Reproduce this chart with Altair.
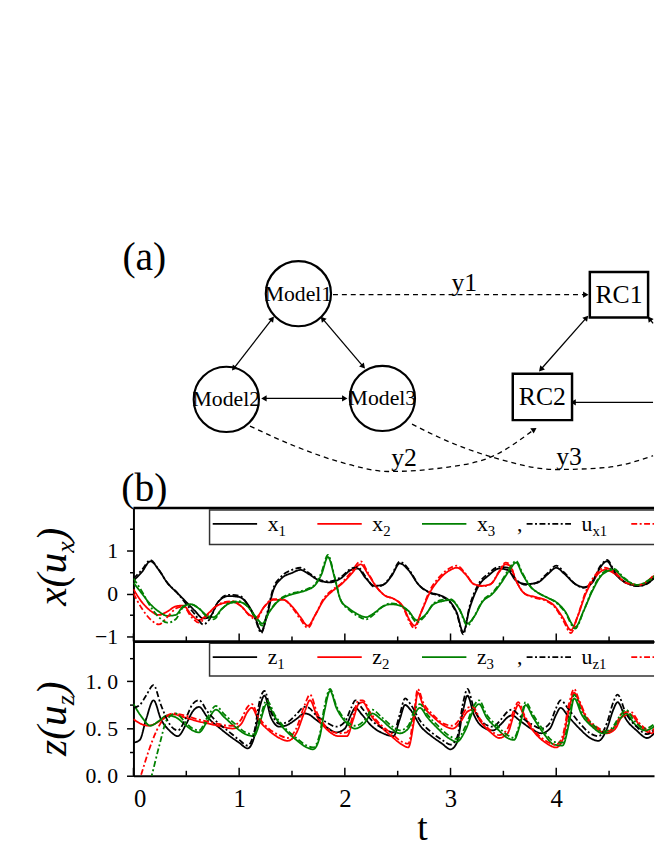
import math
import altair as alt
import pandas as pd

# ---------------- panel (b), upper: x_i (solid) and u_xi (dash-dot) ----------------
x1_t = [0.00,0.08,0.16,0.24,0.32,0.42,0.50,0.58,0.66,0.72,0.80,0.90,1.00,1.08,1.15,1.21,1.26,1.32,1.40,1.50,
        1.58,1.66,1.76,1.86,1.96,2.06,2.12,2.20,2.28,2.36,2.44,2.52,2.60,2.70,2.80,2.90,3.00,3.06,3.12,3.18,
        3.26,3.36,3.46,3.54,3.62,3.72,3.82,3.92,4.00,4.08,4.18,4.26,4.34,4.42,4.48,4.56,4.66,4.78,4.90,4.96]
x1_v = [0.30,0.50,0.75,0.55,0.25,0.00,-0.20,-0.40,-0.58,-0.55,-0.20,-0.06,-0.08,-0.25,-0.55,-0.88,-0.55,0.05,0.35,0.48,
        0.55,0.45,0.30,0.26,0.35,0.55,0.58,0.35,0.18,0.20,0.40,0.70,0.55,0.20,0.03,-0.04,-0.20,-0.45,-0.90,-0.35,
        0.15,0.42,0.58,0.55,0.30,0.22,0.25,0.45,0.60,0.45,0.22,0.15,0.25,0.62,0.75,0.45,0.25,0.18,0.30,0.45]
ux1_v = [0.35,0.55,0.78,0.55,0.25,0.00,-0.25,-0.48,-0.72,-0.60,-0.20,-0.03,-0.05,-0.25,-0.58,-0.92,-0.50,0.10,0.40,0.55,
         0.60,0.48,0.32,0.28,0.38,0.58,0.62,0.38,0.15,0.20,0.42,0.74,0.58,0.20,0.02,-0.06,-0.22,-0.48,-0.95,-0.30,
         0.20,0.47,0.62,0.60,0.32,0.20,0.26,0.48,0.65,0.48,0.22,0.13,0.27,0.65,0.78,0.48,0.25,0.17,0.30,0.48]

x2_t = [0.00,0.08,0.16,0.24,0.32,0.40,0.47,0.55,0.62,0.70,0.78,0.86,0.94,1.02,1.10,1.16,1.24,1.32,1.42,1.50,
        1.58,1.65,1.72,1.80,1.88,1.96,2.06,2.15,2.22,2.30,2.38,2.46,2.55,2.62,2.66,2.72,2.80,2.90,3.00,3.06,
        3.14,3.22,3.30,3.38,3.46,3.52,3.56,3.62,3.70,3.80,3.90,3.98,4.06,4.14,4.20,4.28,4.36,4.46,4.56,4.66,
        4.78,4.90,4.96]
x2_v = [0.10,-0.20,-0.40,-0.50,-0.42,-0.30,-0.28,-0.50,-0.62,-0.48,-0.30,-0.22,-0.20,-0.30,-0.50,-0.55,-0.30,-0.15,-0.15,-0.30,
        -0.55,-0.75,-0.50,-0.15,0.05,0.20,0.45,0.68,0.45,0.15,-0.05,-0.12,-0.30,-0.65,-0.75,-0.45,0.00,0.35,0.55,0.60,
        0.45,0.22,0.18,0.22,0.50,0.68,0.65,0.30,0.00,-0.08,-0.15,-0.28,-0.55,-0.85,-0.55,0.00,0.35,0.55,0.45,0.25,
        0.20,0.35,0.50]
ux2_v = [0.00,-0.35,-0.60,-0.72,-0.55,-0.35,-0.30,-0.55,-0.68,-0.50,-0.30,-0.20,-0.18,-0.30,-0.52,-0.60,-0.30,-0.13,-0.14,-0.32,
         -0.60,-0.80,-0.50,-0.12,0.08,0.22,0.50,0.75,0.48,0.15,-0.05,-0.12,-0.32,-0.70,-0.82,-0.45,0.05,0.40,0.60,0.65,
         0.47,0.22,0.17,0.22,0.52,0.72,0.68,0.30,0.00,-0.10,-0.17,-0.30,-0.60,-0.92,-0.55,0.05,0.40,0.60,0.48,0.25,
         0.20,0.37,0.55]

x3_t = [0.00,0.08,0.16,0.24,0.32,0.40,0.47,0.54,0.62,0.70,0.76,0.84,0.92,1.00,1.08,1.16,1.22,1.28,1.36,1.46,
        1.56,1.64,1.72,1.78,1.84,1.90,1.96,2.04,2.12,2.20,2.28,2.36,2.44,2.52,2.60,2.68,2.76,2.84,2.92,3.00,
        3.08,3.16,3.22,3.30,3.40,3.48,3.56,3.62,3.68,3.76,3.84,3.92,4.00,4.08,4.18,4.26,4.34,4.44,4.54,4.64,
        4.76,4.88,4.96]
x3_v = [0.25,0.00,-0.25,-0.42,-0.52,-0.50,-0.30,-0.25,-0.35,-0.52,-0.55,-0.35,-0.22,-0.20,-0.30,-0.55,-0.70,-0.45,-0.20,-0.05,
        0.02,0.08,0.20,0.45,0.85,0.40,-0.15,-0.35,-0.48,-0.55,-0.45,-0.30,-0.25,-0.28,-0.40,-0.62,-0.50,-0.25,-0.18,-0.15,
        -0.35,-0.70,-0.55,-0.20,0.00,0.25,0.55,0.72,0.45,0.15,0.00,-0.10,-0.20,-0.40,-0.78,-0.40,0.05,0.45,0.55,0.35,
        0.20,0.30,0.45]
ux3_v = [0.35,0.05,-0.30,-0.55,-0.68,-0.60,-0.32,-0.25,-0.35,-0.55,-0.60,-0.35,-0.20,-0.18,-0.30,-0.58,-0.75,-0.45,-0.18,-0.03,
         0.04,0.10,0.22,0.50,0.90,0.42,-0.15,-0.38,-0.52,-0.60,-0.48,-0.30,-0.23,-0.27,-0.42,-0.67,-0.52,-0.23,-0.15,-0.13,
         -0.35,-0.75,-0.55,-0.18,0.03,0.28,0.60,0.76,0.48,0.15,0.00,-0.10,-0.22,-0.42,-0.82,-0.40,0.08,0.48,0.58,0.37,
         0.20,0.32,0.48]

# ---------------- panel (b), lower: z_i (solid) and u_zi (dash-dot) ----------------
z1_t = [0.00,0.06,0.12,0.19,0.26,0.34,0.42,0.50,0.56,0.62,0.70,0.80,0.90,1.00,1.08,1.14,1.20,1.24,1.30,1.38,
        1.46,1.54,1.62,1.66,1.72,1.82,1.92,2.00,2.06,2.10,2.16,2.26,2.36,2.46,2.52,2.57,2.62,2.72,2.82,2.92,
        3.00,3.06,3.12,3.16,3.22,3.30,3.40,3.48,3.54,3.58,3.66,3.76,3.86,3.94,4.00,4.04,4.12,4.22,4.32,4.40,
        4.48,4.54,4.58,4.66,4.76,4.86,4.96]
z1_v = [0.35,0.38,0.60,0.80,0.60,0.48,0.42,0.55,0.68,0.73,0.62,0.52,0.43,0.35,0.29,0.40,0.75,0.85,0.62,0.52,
        0.54,0.60,0.66,0.65,0.60,0.52,0.46,0.50,0.65,0.72,0.65,0.52,0.45,0.42,0.60,0.75,0.70,0.52,0.42,0.34,
        0.28,0.35,0.70,0.85,0.65,0.52,0.48,0.55,0.62,0.64,0.58,0.50,0.45,0.50,0.65,0.72,0.62,0.50,0.40,0.37,
        0.50,0.70,0.78,0.60,0.48,0.40,0.50]
uz1_v = [0.72,0.75,0.85,0.96,0.75,0.55,0.48,0.62,0.76,0.80,0.68,0.56,0.47,0.38,0.32,0.45,0.82,0.90,0.68,0.55,
         0.57,0.65,0.73,0.72,0.65,0.57,0.52,0.57,0.72,0.80,0.72,0.58,0.50,0.46,0.65,0.82,0.76,0.57,0.46,0.38,
         0.33,0.40,0.78,0.92,0.72,0.57,0.52,0.60,0.68,0.70,0.63,0.55,0.50,0.56,0.72,0.80,0.70,0.56,0.45,0.42,
         0.56,0.78,0.86,0.66,0.52,0.44,0.55]

z2_t = [0.00,0.07,0.14,0.22,0.30,0.38,0.48,0.60,0.72,0.84,0.94,1.02,1.08,1.12,1.18,1.28,1.38,1.46,1.54,1.62,
        1.67,1.74,1.84,1.94,2.02,2.08,2.13,2.17,2.24,2.34,2.44,2.54,2.60,2.65,2.69,2.74,2.84,2.94,3.02,3.10,
        3.16,3.21,3.28,3.38,3.46,3.54,3.60,3.64,3.70,3.80,3.90,4.00,4.06,4.12,4.17,4.21,4.28,4.38,4.48,4.56,
        4.62,4.70,4.80,4.90,4.96]
z2_v = [0.60,0.55,0.53,0.56,0.62,0.65,0.62,0.58,0.55,0.52,0.50,0.55,0.68,0.72,0.60,0.48,0.40,0.37,0.45,0.68,
        0.80,0.62,0.48,0.42,0.42,0.60,0.76,0.78,0.65,0.52,0.42,0.33,0.30,0.55,0.88,0.75,0.62,0.53,0.50,0.58,
        0.68,0.70,0.58,0.46,0.40,0.45,0.65,0.75,0.62,0.45,0.35,0.30,0.38,0.70,0.88,0.80,0.62,0.50,0.45,0.50,
        0.62,0.65,0.52,0.45,0.55]
uz2_v = [-0.25,0.00,0.25,0.48,0.62,0.66,0.64,0.60,0.57,0.54,0.53,0.60,0.73,0.76,0.63,0.50,0.43,0.40,0.50,0.75,
         0.86,0.66,0.50,0.45,0.46,0.65,0.80,0.80,0.67,0.54,0.45,0.36,0.34,0.62,0.92,0.78,0.64,0.55,0.53,0.62,
         0.72,0.73,0.60,0.48,0.43,0.50,0.70,0.78,0.64,0.47,0.37,0.33,0.42,0.76,0.92,0.82,0.64,0.52,0.47,0.53,
         0.66,0.68,0.54,0.47,0.58]

z3_t = [0.00,0.08,0.16,0.24,0.32,0.40,0.48,0.56,0.62,0.70,0.78,0.86,0.96,1.06,1.14,1.20,1.26,1.34,1.44,1.54,
        1.64,1.70,1.76,1.81,1.86,1.92,2.00,2.10,2.18,2.26,2.34,2.44,2.52,2.60,2.66,2.71,2.78,2.88,2.98,3.06,
        3.14,3.22,3.27,3.34,3.44,3.54,3.60,3.66,3.71,3.78,3.88,3.98,4.06,4.12,4.17,4.24,4.34,4.44,4.52,4.60,
        4.66,4.74,4.84,4.96]
z3_v = [0.76,0.62,0.53,0.58,0.64,0.62,0.55,0.48,0.46,0.58,0.70,0.62,0.52,0.44,0.42,0.58,0.76,0.62,0.48,0.38,
        0.30,0.28,0.40,0.70,0.90,0.72,0.58,0.50,0.55,0.66,0.60,0.50,0.45,0.50,0.65,0.72,0.62,0.50,0.40,0.36,
        0.48,0.70,0.76,0.62,0.50,0.40,0.38,0.55,0.75,0.62,0.45,0.33,0.32,0.55,0.82,0.65,0.52,0.45,0.48,0.60,
        0.66,0.55,0.48,0.55]
uz3_v = [-0.55,-0.30,-0.05,0.30,0.60,0.66,0.58,0.50,0.48,0.62,0.74,0.65,0.55,0.46,0.44,0.62,0.80,0.64,0.50,0.40,
         0.32,0.30,0.43,0.75,0.92,0.74,0.60,0.53,0.58,0.70,0.63,0.53,0.48,0.53,0.70,0.76,0.65,0.53,0.43,0.39,
         0.52,0.74,0.80,0.65,0.53,0.43,0.40,0.58,0.78,0.65,0.48,0.36,0.35,0.60,0.86,0.68,0.55,0.47,0.50,0.63,
         0.70,0.58,0.50,0.58]

x_ticks_major = [0, 1, 2, 3, 4]
x_ticks_minor = [0.5, 1.5, 2.5, 3.5, 4.5]
x_tick_labels = [0, 1, 2, 3, 4]

# legend entries: (letter, subscript, colour key, line kind)
legend_top = [("x", "1", "1", "solid"), ("x", "2", "2", "solid"), ("x", "3", "3", "solid"),
              ("u", "x1", "1", "dashdot"), ("u", "x2", "2", "dashdot"), ("u", "x3", "3", "dashdot")]
legend_bot = [("z", "1", "1", "solid"), ("z", "2", "2", "solid"), ("z", "3", "3", "solid"),
              ("u", "z1", "1", "dashdot"), ("u", "z2", "2", "dashdot"), ("u", "z3", "3", "dashdot")]

# ---------------- panel (a): network diagram (page coordinates) ----------------
node_name = ["Model1", "Model2", "Model3"]
node_cx = [302, 229, 387]
node_cy = [292, 399, 398]
rc_name = ["RC1", "RC2"]
rc_left = [597, 519]
rc_right = [656, 579]
rc_top = [270, 373]
rc_bottom = [316, 420]
solid_links = {
    "m1m2": ([275, 237], [318, 367], True, True),
    "m1m3": ([327, 367], [318, 365], True, True),
    "m2m3": ([268, 348], [398, 398], True, True),
    "r1r2": ([593, 548], [317, 368], True, True),
    "r2r3": ([581, 661], [402, 402], True, False),
    "r1r3": ([658, 661], [318, 322], True, False),
}
dashed_links = {
    "y1": ([337, 592], [293, 293], False, True),
    "y2": ([253, 300, 350, 393, 450, 500, 540], [426, 447, 464, 472, 468, 456, 430], False, True),
    "y3": ([417, 450, 500, 563, 613, 661], [424, 440, 458, 470, 468, 456], False, False),
}
diag_label = ["y1", "y2", "y3"]
diag_label_x = [470, 409, 576]
diag_label_y = [281, 458, 457]
panel_tag = ["(a)", "(b)"]
panel_tag_x = [146, 146]
panel_tag_y = [256, 490]

# ---------------- styling / layout ----------------
FONT = "Liberation Serif"
BLACK, RED, GREEN = "#000000", "#ff0000", "#008000"
W = 527
PX_PER_T = 107.0
T_MAX = W / PX_PER_T
DIAG_H, TOP_H, BOT_H = 501, 135, 136
TOP_DOM = [-1.115, 1.99]
BOT_DOM = [0.0, 1.424]
DASHDOT = [6, 2.5, 2, 2.5]
LEFT = 127

colors = alt.Scale(domain=["1", "2", "3"], range=[BLACK, RED, GREEN])
dashes = alt.Scale(domain=["solid", "dashdot"], range=[[1, 0], DASHDOT])
xs = alt.Scale(domain=[0, T_MAX], nice=False, zero=False)
one = pd.DataFrame({"k": [0]})


def rows(series, var, kind, ts, vs):
    assert len(ts) == len(vs), (series, len(ts), len(vs))
    return [dict(series=series, var=var, kind=kind, t=t, v=v) for t, v in zip(ts, vs)]


top_df = pd.DataFrame(rows("x1", "1", "solid", x1_t, x1_v) + rows("x2", "2", "solid", x2_t, x2_v)
                      + rows("x3", "3", "solid", x3_t, x3_v) + rows("ux1", "1", "dashdot", x1_t, ux1_v)
                      + rows("ux2", "2", "dashdot", x2_t, ux2_v) + rows("ux3", "3", "dashdot", x3_t, ux3_v))
bot_df = pd.DataFrame(rows("z1", "1", "solid", z1_t, z1_v) + rows("z2", "2", "solid", z2_t, z2_v)
                      + rows("z3", "3", "solid", z3_t, z3_v) + rows("uz1", "1", "dashdot", z1_t, uz1_v)
                      + rows("uz2", "2", "dashdot", z2_t, uz2_v) + rows("uz3", "3", "dashdot", z3_t, uz3_v))

LETTER_W = {"x": 0.5, "z": 0.444, "u": 0.5}
ITAL_W = {"x": 0.444, "z": 0.389, "(": 0.333, "u": 0.5}


def panel(df, dom, height, x_axis, y_axis, legend, leg_v, box_v, title_main, title_sub, title_y):
    ys = alt.Scale(domain=dom, nice=False, zero=False)
    X = alt.X("t:Q", scale=xs, axis=x_axis)
    Y = alt.Y("v:Q", scale=ys, axis=y_axis)
    upp = (dom[1] - dom[0]) / height  # data units per pixel

    lines = alt.Chart(df).mark_line(interpolate="monotone", clip=True, strokeWidth=1.8).encode(
        x=X, y=Y,
        color=alt.Color("var:N", scale=colors, legend=None),
        strokeDash=alt.StrokeDash("kind:N", scale=dashes, legend=None),
        detail="series:N",
    )
    top_rule = alt.Chart(pd.DataFrame({"v": [dom[1]]})).mark_rule(strokeWidth=2.5, color="black").encode(y=Y)

    tick_df = pd.DataFrame(
        [dict(t=t, v=dom[0], v2=dom[0] + 8 * upp) for t in x_ticks_major]
        + [dict(t=t, v=dom[0], v2=dom[0] + 5 * upp) for t in x_ticks_minor])
    ticks = alt.Chart(tick_df).mark_rule(strokeWidth=1.5, color="black").encode(x=X, y=Y, y2="v2:Q")

    # manual legend with subscripts (entries running past the visible edge keep only their line sample)
    t0, step, ln = 0.75, 0.99, 0.42
    box = alt.Chart(pd.DataFrame({"t": [0.72], "t2": [T_MAX + 0.5], "v": [box_v[0]], "v2": [box_v[1]]})).mark_rect(
        fill="white", stroke="#333333", strokeWidth=1.5, clip=True).encode(x=X, x2="t2:Q", y=Y, y2="v2:Q")
    leg_lines = pd.DataFrame([dict(t=t0 + i * step, t2=t0 + i * step + ln, v=leg_v, var=c, kind=k)
                              for i, (_, _, c, k) in enumerate(legend) if t0 + i * step < T_MAX])
    leg_rules = alt.Chart(leg_lines).mark_rule(strokeWidth=1.8, clip=True).encode(
        x=X, x2="t2:Q", y=Y,
        color=alt.Color("var:N", scale=colors, legend=None),
        strokeDash=alt.StrokeDash("kind:N", scale=dashes, legend=None))
    main_rows, sub_rows = [], []
    for i, (letter, sub, _, _) in enumerate(legend):
        tm = t0 + i * step + ln + 0.1
        if tm + 0.3 > T_MAX:
            continue
        main_rows.append(dict(t=tm, v=leg_v, s=letter))
        sub_rows.append(dict(t=tm + LETTER_W[letter] * 22 / PX_PER_T, v=leg_v, s=sub))
    main_rows.append(dict(t=t0 + 2 * step + ln + 0.1 + 0.38, v=leg_v, s=","))
    leg_main = alt.Chart(pd.DataFrame(main_rows)).mark_text(
        align="left", baseline="alphabetic", dy=7, font=FONT, fontSize=22).encode(x=X, y=Y, text="s:N")
    leg_sub = alt.Chart(pd.DataFrame(sub_rows)).mark_text(
        align="left", baseline="alphabetic", dy=12, font=FONT, fontSize=15).encode(x=X, y=Y, text="s:N")

    # rotated y title with subscript: main "x(u", sub, ")"
    fs_m, fs_s = 42, 26
    w_main = sum(ITAL_W[c] for c in title_main) * fs_m
    w_sub = ITAL_W[title_sub] * fs_s
    bx = -68
    common = dict(angle=270, align="left", baseline="alphabetic", font=FONT, fontStyle="italic")
    t1 = alt.Chart(one).mark_text(fontSize=fs_m, **common).encode(
        x=alt.value(bx), y=alt.value(title_y), text=alt.value(title_main))
    t2 = alt.Chart(one).mark_text(fontSize=fs_s, **common).encode(
        x=alt.value(bx + 8), y=alt.value(title_y - w_main), text=alt.value(title_sub))
    t3 = alt.Chart(one).mark_text(fontSize=fs_m, **common).encode(
        x=alt.value(bx), y=alt.value(title_y - w_main - w_sub), text=alt.value(")"))
    # invisible anchor fixing the left extent of the figure
    anchor = alt.Chart(one).mark_rule(strokeWidth=0, opacity=0).encode(
        x=alt.value(-LEFT), x2=alt.value(-LEFT + 1), y=alt.value(height / 2))

    return alt.layer(lines, box, leg_rules, leg_main, leg_sub, top_rule, ticks, t1, t2, t3, anchor).properties(
        width=W, height=height)


top_y_axis = alt.Axis(
    values=[-1, -0.5, 0, 0.5, 1, 1.5], title=None,
    labelExpr="datum.value == 1 ? '1' : datum.value == 0 ? '0' : datum.value == -1 ? '\u22121' : ''",
    labelFontSize=22, labelPadding=9, domainWidth=2, tickWidth=1.5,
    tickSize={"condition": {"test": "abs(datum.value % 1) < 0.001", "value": 7}, "value": 4})
bot_y_axis = alt.Axis(
    values=[0, 0.25, 0.5, 0.75, 1.0, 1.25], title=None,
    labelExpr="datum.value == 0 ? '0. 0' : datum.value == 0.5 ? '0. 5' : datum.value == 1 ? '1. 0' : ''",
    labelFontSize=22, labelPadding=9, domainWidth=2, tickWidth=1.5,
    tickSize={"condition": {"test": "abs((datum.value * 2) % 1) < 0.001", "value": 7}, "value": 4})
top_x_axis = alt.Axis(labels=False, ticks=False, title=None, domainWidth=2)
bot_x_axis = alt.Axis(values=x_tick_labels, format="d", ticks=False, domainWidth=2, labelFontSize=25,
                      labelPadding=11, title="t", titleFontSize=38, titleFontWeight="normal",
                      titleX=292, titleY=65, titleBaseline="alphabetic", titleAlign="center")

top = panel(top_df, TOP_DOM, TOP_H, top_x_axis, top_y_axis, legend_top, 1.622, [1.944, 1.139], "x(u", "x", 99)
bottom = panel(bot_df, BOT_DOM, BOT_H, bot_x_axis, bot_y_axis, legend_bot, 1.257, [1.403, 1.058], "z(u", "z", 116)

# ---------------- diagram chart ----------------
dxs = alt.Scale(domain=[135, 135 + W], nice=False, zero=False)
dys = alt.Scale(domain=[8, 8 + DIAG_H], nice=False, zero=False, reverse=True)
DX = alt.X("x:Q", scale=dxs, axis=None)
DY = alt.Y("y:Q", scale=dys, axis=None)


def link_rows(links):
    out, heads = [], []
    for name, (lx, ly, h0, h1) in links.items():
        for i, (a, b) in enumerate(zip(lx, ly)):
            out.append(dict(edge=name, seq=i, x=a, y=b))
        if h0:
            ddx, ddy = lx[0] - lx[1], ly[0] - ly[1]
            heads.append(dict(x=lx[0], y=ly[0], ang=math.degrees(math.atan2(ddx, -ddy)) % 360))
        if h1:
            ddx, ddy = lx[-1] - lx[-2], ly[-1] - ly[-2]
            heads.append(dict(x=lx[-1], y=ly[-1], ang=math.degrees(math.atan2(ddx, -ddy)) % 360))
    return pd.DataFrame(out), heads


solid_df, heads_s = link_rows(solid_links)
dashed_df, heads_d = link_rows(dashed_links)
heads_df = pd.DataFrame(heads_s + heads_d)

solid_lines = alt.Chart(solid_df).mark_line(color="black", strokeWidth=1.3).encode(
    x=DX, y=DY, detail="edge:N", order="seq:Q")
dashed_lines = alt.Chart(dashed_df).mark_line(color="black", strokeWidth=1.3, strokeDash=[5, 4],
                                              interpolate="monotone").encode(
    x=DX, y=DY, detail="edge:N", order="seq:Q")
arrowheads = alt.Chart(heads_df).mark_point(shape="triangle", filled=True, color="black", size=40,
                                            opacity=1).encode(
    x=DX, y=DY, angle=alt.Angle("ang:Q", scale=None))
circles = alt.Chart(pd.DataFrame({"x": node_cx, "y": node_cy})).mark_point(
    shape="circle", size=4356, filled=False, color="black", strokeWidth=2.2, opacity=1).encode(x=DX, y=DY)
node_text = alt.Chart(pd.DataFrame({"x": node_cx, "y": node_cy, "s": node_name})).mark_text(
    font=FONT, fontSize=22, baseline="middle").encode(x=DX, y=DY, text="s:N")
boxes = alt.Chart(pd.DataFrame({"x": rc_left, "x2": rc_right, "y": rc_top, "y2": rc_bottom})).mark_rect(
    fill="white", stroke="black", strokeWidth=2.5).encode(x=DX, x2="x2:Q", y=DY, y2="y2:Q")
rc_text = alt.Chart(pd.DataFrame({"x": [(a + b) / 2 for a, b in zip(rc_left, rc_right)],
                                  "y": [(a + b) / 2 for a, b in zip(rc_top, rc_bottom)],
                                  "s": rc_name})).mark_text(font=FONT, fontSize=26, baseline="middle").encode(
    x=DX, y=DY, text="s:N")
y_text = alt.Chart(pd.DataFrame({"x": diag_label_x, "y": diag_label_y, "s": diag_label})).mark_text(
    font=FONT, fontSize=26, baseline="middle").encode(x=DX, y=DY, text="s:N")
tags = alt.Chart(pd.DataFrame({"x": panel_tag_x, "y": panel_tag_y, "s": panel_tag})).mark_text(
    font=FONT, fontSize=40, baseline="middle").encode(x=DX, y=DY, text="s:N")

diagram = alt.layer(solid_lines, dashed_lines, arrowheads, circles, node_text, boxes, rc_text, y_text,
                    tags).properties(width=W, height=DIAG_H)

chart = alt.vconcat(diagram, top, bottom, spacing=0, bounds="flush").properties(
    padding={"left": 0, "top": 0, "right": 0, "bottom": 0},
).configure_view(stroke=None).configure_axis(
    labelFont=FONT, titleFont=FONT, labelColor="black", titleColor="black",
    domainColor="black", tickColor="black", grid=False)

chart.save("out.html", embed_options={"renderer": "svg", "actions": False})
